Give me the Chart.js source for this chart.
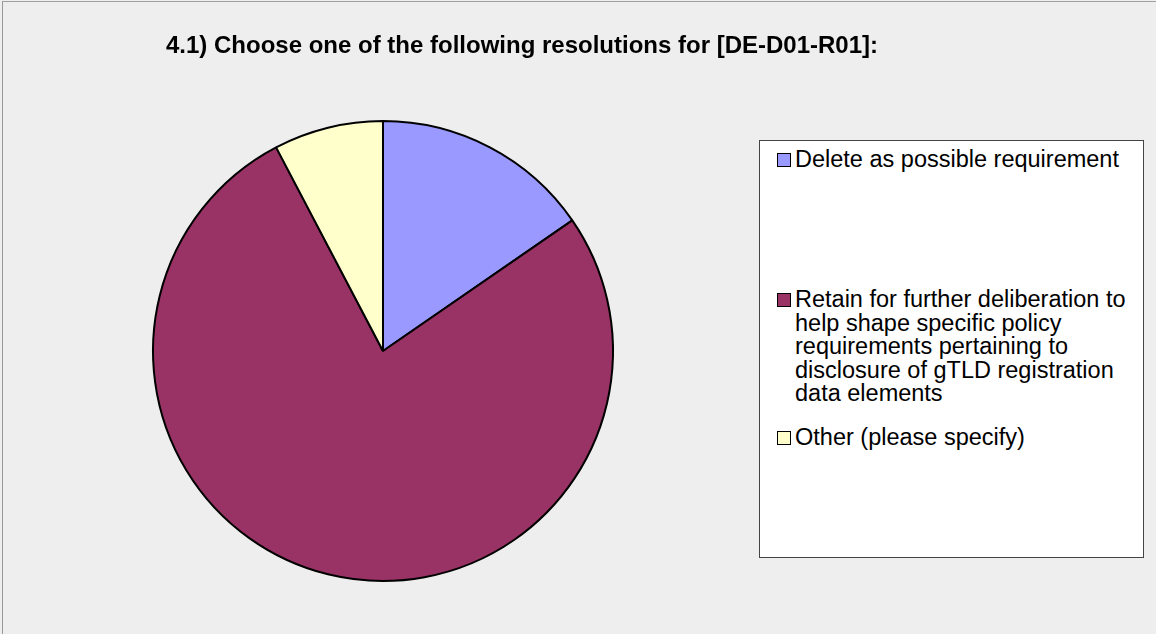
<!DOCTYPE html>
<html>
<head>
<meta charset="utf-8">
<script src="https://cdn.jsdelivr.net/npm/chart.js@4"></script>
<style>
    html, body { margin: 0; padding: 0; background: #ffffff; }
    #wrap { position: absolute; left: 0; top: 0; width: 1156px; height: 634px; background: #eeeeee; overflow: hidden; }
    #frame { position: absolute; left: 2px; top: 1px; width: 1160px; height: 640px; border-left: 1px solid #999999; border-top: 1px solid #a0a0a0; box-sizing: border-box; }
    #titulo { position: absolute; left: 0; top: 31px; width: 1044px; text-align: center; font-family: "Liberation Sans", Arial, sans-serif; font-weight: bold; font-size: 24px; letter-spacing: 0; color: #000; white-space: nowrap; }
    canvas { position: absolute; left: 0; top: 0; }
    #leyenda { position: absolute; left: 759px; top: 140px; width: 385px; height: 418px; background: #ffffff; border: 1px solid #444444; box-sizing: border-box; font-family: "Liberation Sans", Arial, sans-serif; font-size: 23.5px; line-height: 23.5px; color: #000; }
    .item { position: absolute; left: 35px; width: 340px; }
    .caja { position: absolute; left: -18px; top: 5px; width: 12px; height: 12px; border: 1px solid #000; }
</style>
</head>
<body>
<div id="wrap">
    <div id="frame"></div>
    <canvas id="graficoTarta" width="1156" height="634"></canvas>
    <div id="titulo"></div>
    <div id="leyenda"></div>
</div>
<script>
    // Datos
    const titulo = "4.1) Choose one of the following resolutions for [DE-D01-R01]:";
    const categorias = [
        "Delete as possible requirement",
        "Retain for further deliberation to help shape specific policy requirements pertaining to disclosure of gTLD registration data elements",
        "Other (please specify)"
    ];
    const respuestas = [2, 10, 1];
    const colores = ['#9999ff', '#993366', '#ffffcc'];
    const posLeyenda = [7, 147, 285]; // top de cada entrada dentro del recuadro

    document.getElementById('titulo').textContent = titulo;

    const leyenda = document.getElementById('leyenda');
    categorias.forEach((c, i) => {
        const div = document.createElement('div');
        div.className = 'item';
        div.style.top = posLeyenda[i] + 'px';
        div.innerHTML = `<span class="caja" style="background:${colores[i]}"></span>${c}`;
        leyenda.appendChild(div);
    });

    const ctx = document.getElementById('graficoTarta').getContext('2d');
    new Chart(ctx, {
        type: 'pie',
        data: {
            labels: categorias,
            datasets: [{
                data: respuestas,
                backgroundColor: colores,
                borderColor: '#000000',
                borderWidth: 2,
                borderAlign: 'center'
            }]
        },
        options: {
            responsive: false,
            animation: false,
            layout: { padding: { left: 152, right: 542, top: 120, bottom: 52 } },
            plugins: {
                legend: { display: false },
                title: { display: false },
                tooltip: { enabled: false }
            }
        }
    });
</script>
</body>
</html>
